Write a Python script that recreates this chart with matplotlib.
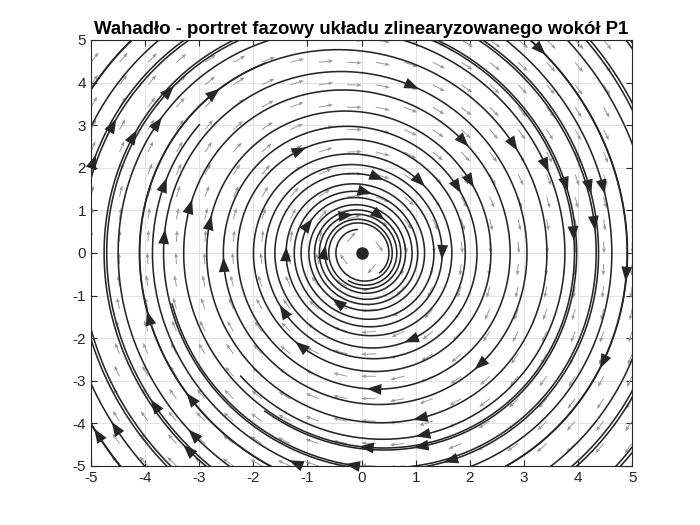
import numpy as np
import matplotlib.pyplot as plt

plt.rcParams['font.family'] = ['Liberation Sans', 'DejaVu Sans']
plt.rcParams['axes.unicode_minus'] = False

# linearized pendulum around P1: x1' = x2, x2' = -w2*x1 - b*x2
w2 = 1.61
b = 0.145
A = np.array([[0.0, 1.0], [-w2, -b]])
w = np.sqrt(w2)

# streamline seeds on the positive x2 axis (x1 = 0) and "radius" where each line stops
seed_y = [6.80, 6.40, 6.00, 5.50, 5.20, 4.74, 4.23, 3.80]
stop_r = [5.00, 4.85, 4.60, 4.35, 4.05, 0.56, 0.63, 0.72]
arrow_phase = [120, 40, 250, 180, 300, 30, 150, 260]

grid_n = 20
lim = 5


def rhs(p):
    return A @ p


def trace(p0, sgn, r_stop, r_max=8.5, dt=0.01):
    p = np.array(p0, dtype=float)
    pts = [p.copy()]
    for i in range(40000):
        k1 = rhs(p)
        k2 = rhs(p + 0.5*sgn*dt*k1)
        k3 = rhs(p + 0.5*sgn*dt*k2)
        k4 = rhs(p + sgn*dt*k3)
        p = p + sgn*dt/6*(k1 + 2*k2 + 2*k3 + k4)
        pts.append(p.copy())
        r = np.hypot(w*p[0], p[1])
        if sgn > 0 and r < r_stop:
            break
        if sgn < 0 and r > r_max:
            break
    return np.array(pts)


fig = plt.figure(figsize=(7, 5.25), dpi=100)
ax = fig.add_axes([0.13, 0.1124, 0.773, 0.8116])

# direction field
g = np.linspace(-lim, lim, grid_n)
X, Y = np.meshgrid(g, g)
U = Y
V = -w2*X - b*Y
L = np.hypot(U, V)
L[L == 0] = 1
ax.quiver(X, Y, U/L*0.27, V/L*0.27, angles='xy', scale_units='xy', scale=1,
          color='#9a9a9a', width=0.0018, headwidth=4, headlength=5,
          headaxislength=4.5, zorder=2)

sx = 54.1
sy = 42.6
line_col = '#262626'
for y0, rs, ph in zip(seed_y, stop_r, arrow_phase):
    back = trace([0.0, y0], -1, rs)
    fwd = trace([0.0, y0], 1, rs)
    traj = np.vstack([back[::-1], fwd[1:]])
    ax.plot(traj[:, 0], traj[:, 1], color=line_col, lw=1.15, zorder=3)

    # arrowheads along the visible part
    inside = (np.abs(traj[:, 0]) <= lim) & (np.abs(traj[:, 1]) <= lim)
    d = np.hypot(np.diff(traj[:, 0])*sx, np.diff(traj[:, 1])*sy)
    s = np.concatenate([[0], np.cumsum(d*inside[1:])])
    nxt = ph
    for i in range(len(traj) - 4):
        if inside[i] and inside[i + 4] and s[i] >= nxt:
            ax.annotate('', xy=traj[i + 4], xytext=traj[i],
                        arrowprops=dict(arrowstyle='-|>,head_length=0.75,head_width=0.28',
                                        color=line_col, lw=0.01, shrinkA=0, shrinkB=0,
                                        mutation_scale=14),
                        zorder=4)
            nxt = s[i] + 340

ax.plot([0], [0], 'o', color=line_col, markersize=8, zorder=5)

ax.set_xlim(-lim, lim)
ax.set_ylim(-lim, lim)
ax.set_xticks(range(-5, 6))
ax.set_yticks(range(-5, 6))
ax.grid(True, color='#e3e3e3', lw=0.8, zorder=0)
ax.set_axisbelow(True)
ax.tick_params(direction='in', top=True, right=True, labelsize=11, length=4,
               color='#262626', labelcolor='#262626')
for sp in ax.spines.values():
    sp.set_color('#262626')
    sp.set_linewidth(0.8)
ax.set_title('Wahadło - portret fazowy układu zlinearyzowanego wokół P1',
             fontsize=13.4, fontweight='bold', pad=4)

fig.savefig('out.png', dpi=100)
